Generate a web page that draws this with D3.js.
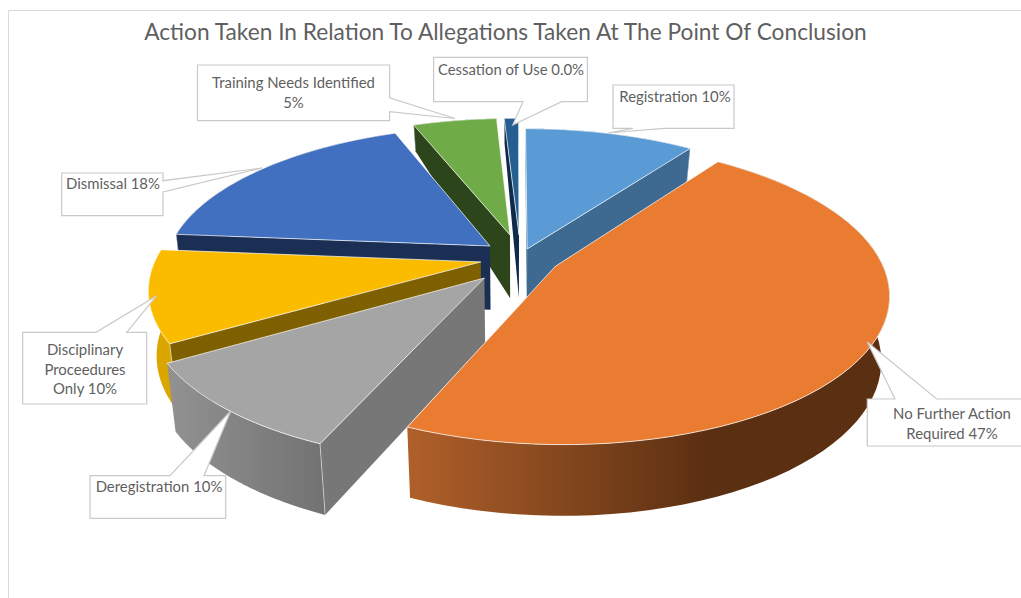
<!DOCTYPE html>
<html>
<head>
<meta charset="utf-8">
<script src="https://cdn.jsdelivr.net/npm/d3@7/dist/d3.min.js"></script>
<style>
  html, body { margin: 0; padding: 0; background: #fff; overflow: hidden; }
  text { font-family: Lato, "Open Sans", sans-serif; fill: #5f5f5f; }
</style>
</head>
<body>
<svg id="chart" width="1021" height="598"></svg>
<script>
// Chart content
const chartTitle = "Action Taken In Relation To Allegations Taken At The Point Of Conclusion";
const categories = ["Registration", "No Further Action Required", "Deregistration",
  "Disciplinary Proceedures Only", "Dismissal", "Training Needs Identified", "Cessation of Use"];
const shares = [10, 47, 10, 10, 18, 5, 0.0];
const shareLabels = ["10%", "47%", "10%", "10%", "18%", "5%", "0.0%"];

// Colours per slice: top face, cut face, outer wall shading
const topColors  = ["#5b9bd5", "#ea7c31", "#a5a5a5", "#fbbc00", "#4270c0", "#6fab46", "#255e91"];
const cutColors  = ["#3e6a92", "#7a4018", "#777777", "#7f6000", "#1b2f55", "#2d451b", "#0f2b4a"];
const wallLeft   = ["#3e6a92", "#b0602a", "#929292", "#dba600", "#1b2f55", "#2d451b", "#0f2b4a"];
const wallRight  = ["#3e6a92", "#5b2f12", "#727272", "#dba600", "#1b2f55", "#2d451b", "#0f2b4a"];
const wallFade   = [1, 0.62, 1, 1, 1, 1, 1];

// A pie cannot show a zero slice, so very small shares get a thin minimum wedge
const minWedgeShare = 0.85;
// How far each slice is pulled out of the pie, across and along the viewing direction
const pullAcross = [0.0347, 0.12, -0.095, -0.108, -0.0813, -0.019, 0.0095];
const pullAlong  = [0.07, -0.05, -0.1286, -0.02, 0.0914, 0.171, 0.171];
// Back-to-front order of the slices
const paintOrder = [6, 5, 0, 4, 3, 2, 1];

const W = 1021, H = 598;
const svg = d3.select("#chart");

// Perspective of the tilted disc; u runs away from the viewer, v to the right
const cx = 516, cy = 259, depthK = 0.174, sinkK = 0.022;
const xScale = d3.scaleLinear().domain([-1, 1]).range([-325, 325]);
const yTop = d3.scaleLinear().domain([-1, 1]).range([144.5, -144.5]);
const yBottom = d3.scaleLinear().domain([-1.046, 0.171, 1.106]).range([215, 41.3, -131]);

function project(v, u, level) {
  const w = 1 + depthK * u;
  if (level === "top") return [cx + xScale(v) / w, cy + yTop(u) / w];
  return [cx + xScale(v) / (w + sinkK), cy + yBottom(u) / (w + sinkK)];
}

const pie = d3.pie().sort(null).value(d => Math.max(d, minWedgeShare))
  .startAngle(0).endAngle(2 * Math.PI);
const arcs = pie(shares);
const outline = d3.line().curve(d3.curveLinear);

const defs = svg.append("defs");

// Frame of the chart area, open on the right and bottom sides
svg.append("path").attr("d", `M8.5,${H}V10.5H${W}`)
  .attr("fill", "none").attr("stroke", "#d9d9d9");

svg.append("text").attr("x", 505.5).attr("y", 40).attr("text-anchor", "middle")
  .attr("font-size", 22.7).text(chartTitle);

// A cut face shows only when dropping its top edge moves it away from the slice interior
function faceShows(apexPt, rimPt, midPt) {
  const ex = rimPt[0] - apexPt[0], ey = rimPt[1] - apexPt[1];
  const side = (px, py) => ex * py - ey * px;
  const inner = side(midPt[0] - apexPt[0], midPt[1] - apexPt[1]);
  const drop = side(0, 1);
  return inner * drop < 0;
}

// Each slice: outer wall and visible cut faces first, its top face over them
paintOrder.forEach(i => {
  const a = arcs[i];
  const ov = pullAcross[i], ou = pullAlong[i];
  const rim = level => d3.range(0, 61).map(k => {
    const t = a.startAngle + (a.endAngle - a.startAngle) * k / 60;
    return project(ov + Math.sin(t), ou + Math.cos(t), level);
  });
  const apexTop = project(ov, ou, "top"), apexBot = project(ov, ou, "bottom");
  const topRim = rim("top"), botRim = rim("bottom");

  const g = svg.append("g");
  const gradId = "wall" + i;
  const grad = defs.append("linearGradient").attr("id", gradId);
  grad.append("stop").attr("offset", "0").attr("stop-color", wallLeft[i]);
  grad.append("stop").attr("offset", wallFade[i]).attr("stop-color", wallRight[i]);

  g.append("path").attr("d", outline(topRim.concat(botRim.slice().reverse())) + "Z")
    .attr("fill", `url(#${gradId})`);

  [[topRim[0], botRim[0]], [topRim[60], botRim[60]]].forEach(([t, b]) => {
    if (!faceShows(apexTop, t, topRim[30])) return;
    g.append("path")
      .attr("d", outline([apexTop, t, b, apexBot]) + "Z")
      .attr("fill", cutColors[i]);
    g.append("path").attr("d", outline([t, b]))
      .attr("fill", "none").attr("stroke", "rgba(255,255,255,0.6)").attr("stroke-width", 0.8);
  });

  g.append("path").attr("d", outline([apexTop].concat(topRim)) + "Z")
    .attr("fill", topColors[i]).attr("stroke", "rgba(255,255,255,0.7)").attr("stroke-width", 1);
});

// Callouts: a box with a wedge pointing at its slice, then the wrapped text
const callouts = [
  { box: [613, 85, 734, 128.3], wedge: [[633, 128.3], [608, 133], [664, 128.3]], side: "bottom",
    lines: [categories[0] + " " + shareLabels[0]], tx: 675, ty: 102 },
  { box: [867.3, 399, 1030, 446], wedge: [[895, 399], [867.3, 342], [936.7, 399]], side: "top",
    lines: ["No Further Action", "Required " + shareLabels[1]], tx: 952, ty: 419 },
  { box: [90, 475.7, 225.7, 518.3], wedge: [[170, 475.7], [230.7, 411], [204, 475.7]], side: "top",
    lines: [categories[2] + " " + shareLabels[2]], tx: 159, ty: 492 },
  { box: [22.7, 332.3, 146.7, 404], wedge: [[96, 332.3], [156.7, 295.7], [126.7, 332.3]], side: "top",
    lines: ["Disciplinary", "Proceedures", "Only " + shareLabels[3]], tx: 85, ty: 355 },
  { box: [61.7, 173, 163, 215.7], wedge: [[163, 180.7], [262, 168], [163, 192]], side: "right",
    lines: [categories[4] + " " + shareLabels[4]], tx: 113, ty: 189 },
  { box: [197.5, 65, 389.6, 120.7], wedge: [[389.6, 97.7], [455, 118.5], [389.6, 111.7]], side: "right",
    lines: [categories[5], shareLabels[5]], tx: 293.5, ty: 88 },
  { box: [433.6, 57.3, 587.4, 101.7], wedge: [[523, 101.7], [512.7, 125], [561.7, 101.7]], side: "bottom",
    lines: [categories[6] + " " + shareLabels[6]], tx: 511, ty: 75 }
];

callouts.forEach(c => {
  const [x0, y0, x1, y1] = c.box;
  let pts;
  if (c.side === "top") pts = [[x0, y0], ...c.wedge, [x1, y0], [x1, y1], [x0, y1]];
  else if (c.side === "bottom") pts = [[x0, y0], [x1, y0], [x1, y1], ...c.wedge.slice().reverse(), [x0, y1]];
  else pts = [[x0, y0], [x1, y0], ...c.wedge, [x1, y1], [x0, y1]];
  svg.append("path").attr("d", outline(pts) + "Z")
    .attr("fill", "#fff").attr("stroke", "#c9c9c9").attr("stroke-width", 1.2);
  c.lines.forEach((ln, k) => {
    svg.append("text").attr("x", c.tx).attr("y", c.ty + k * 19.5).attr("text-anchor", "middle")
      .attr("font-size", 14.9).text(ln);
  });
});
</script>
</body>
</html>
